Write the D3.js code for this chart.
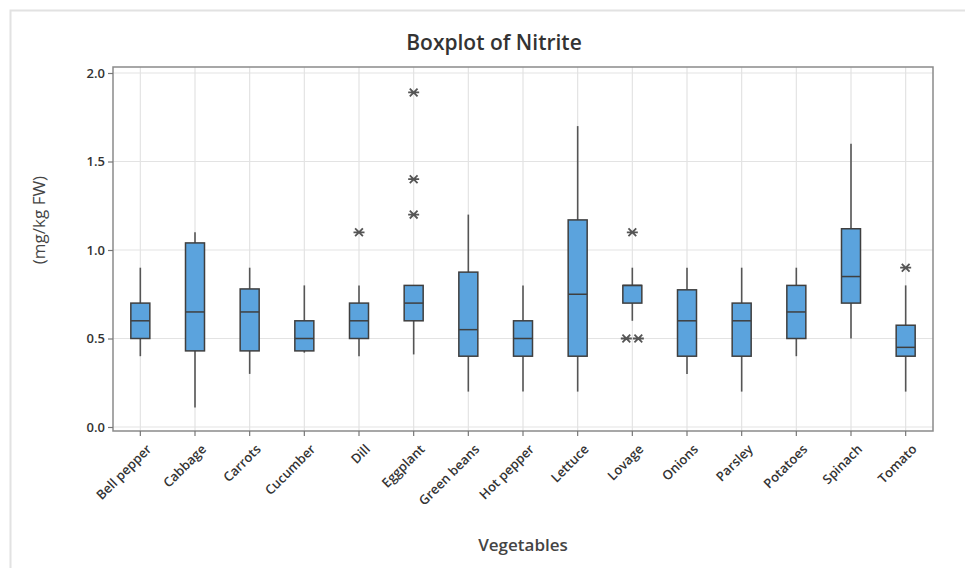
<!DOCTYPE html>
<html>
<head>
<meta charset="utf-8">
<script src="https://cdn.jsdelivr.net/npm/d3@7"></script>
<style>
  html, body { margin: 0; padding: 0; background: #fff; }
  svg { display: block; font-family: "Open Sans", "Noto Sans", sans-serif; }
</style>
</head>
<body>
<svg id="chart" width="965" height="568"></svg>
<script>
const categories = ["Bell pepper","Cabbage","Carrots","Cucumber","Dill","Eggplant","Green beans","Hot pepper","Lettuce","Lovage","Onions","Parsley","Potatoes","Spinach","Tomato"];
const whiskerLow  = [0.40, 0.11, 0.30, 0.42, 0.40, 0.41, 0.20, 0.20, 0.20, 0.60, 0.30, 0.20, 0.40, 0.50, 0.20];
const q1          = [0.50, 0.43, 0.43, 0.43, 0.50, 0.60, 0.40, 0.40, 0.40, 0.70, 0.40, 0.40, 0.50, 0.70, 0.40];
const median      = [0.60, 0.65, 0.65, 0.50, 0.60, 0.70, 0.55, 0.50, 0.75, 0.80, 0.60, 0.60, 0.65, 0.85, 0.45];
const q3          = [0.70, 1.04, 0.78, 0.60, 0.70, 0.80, 0.875, 0.60, 1.17, 0.80, 0.775, 0.70, 0.80, 1.12, 0.575];
const whiskerHigh = [0.90, 1.10, 0.90, 0.80, 0.80, 0.80, 1.20, 0.80, 1.70, 0.90, 0.90, 0.90, 0.90, 1.60, 0.80];
const outliers    = [[], [], [], [], [1.10], [1.89, 1.40, 1.20], [], [], [], [1.10, 0.50, 0.50], [], [], [], [], [0.90]];
const yTicks = [0.0, 0.5, 1.0, 1.5, 2.0];
const titleText = "Boxplot of Nitrite";
const xTitle = "Vegetables";
const yTitle = "(mg/kg FW)";

const svg = d3.select("#chart");
const L = 113, R = 933, T = 67, B = 431;

// outer frame
svg.append("rect").attr("x", 10.5).attr("y", 10.5).attr("width", 1000).attr("height", 600)
  .attr("fill", "none").attr("stroke", "#e2e2e2").attr("stroke-width", 2);

const x = d3.scaleBand().domain(categories).range([L, R]);
const y = d3.scaleLinear().domain([0, 2]).range([427, 73]);
const cx = c => x(c) + x.bandwidth() / 2;

// gridlines
const grid = svg.append("g");
grid.selectAll(".hg").data(yTicks).join("line")
  .attr("x1", L).attr("x2", R).attr("y1", d => y(d)).attr("y2", d => y(d))
  .attr("stroke", "#e3e3e3").attr("stroke-width", 1.2);
grid.selectAll(".vg").data(categories).join("line")
  .attr("x1", d => cx(d)).attr("x2", d => cx(d)).attr("y1", T).attr("y2", B)
  .attr("stroke", "#e3e3e3").attr("stroke-width", 1.2);

// frame of plot
svg.append("rect").attr("x", L).attr("y", T).attr("width", R - L).attr("height", B - T)
  .attr("fill", "none").attr("stroke", "#8a8a8a").attr("stroke-width", 1.5);

// y axis
const yAxis = d3.axisLeft(y).tickValues(yTicks).tickFormat(d3.format(".1f")).tickSize(5).tickPadding(3);
const gy = svg.append("g").attr("transform", `translate(${L},0)`).call(yAxis);
gy.select(".domain").remove();
gy.selectAll(".tick line").attr("stroke", "#777").attr("stroke-width", 1.2);
gy.selectAll(".tick text").attr("fill", "#333").attr("font-size", 13).attr("font-weight", 600)
  .attr("font-family", "Open Sans, sans-serif");

// x axis
const xAxis = d3.axisBottom(x).tickSize(5).tickPadding(4);
const gx = svg.append("g").attr("transform", `translate(0,${B})`).call(xAxis);
gx.select(".domain").remove();
gx.selectAll(".tick line").attr("stroke", "#777").attr("stroke-width", 1.2);
gx.selectAll(".tick text")
  .attr("fill", "#333").attr("font-size", 13).attr("font-weight", 600)
  .attr("font-family", "Open Sans, sans-serif")
  .attr("text-anchor", "end")
  .attr("dy", 0).attr("y", 0)
  .attr("transform", "translate(12,19) rotate(-45)");

// boxes
const data = categories.map((c, i) => ({c, lo: whiskerLow[i], q1: q1[i], med: median[i], q3: q3[i], hi: whiskerHigh[i], out: outliers[i]}));
const bw = 19;
const g = svg.append("g");
const boxes = g.selectAll(".box").data(data).join("g");
boxes.append("line").attr("x1", d => cx(d.c)).attr("x2", d => cx(d.c))
  .attr("y1", d => y(d.hi)).attr("y2", d => y(d.q3)).attr("stroke", "#555").attr("stroke-width", 1.6);
boxes.append("line").attr("x1", d => cx(d.c)).attr("x2", d => cx(d.c))
  .attr("y1", d => y(d.q1)).attr("y2", d => y(d.lo)).attr("stroke", "#555").attr("stroke-width", 1.6);
boxes.append("rect").attr("x", d => cx(d.c) - bw / 2).attr("width", bw)
  .attr("y", d => y(d.q3)).attr("height", d => y(d.q1) - y(d.q3))
  .attr("fill", "#5ba3dd").attr("stroke", "#3f3f3f").attr("stroke-width", 1.5);
boxes.append("line").attr("x1", d => cx(d.c) - bw / 2).attr("x2", d => cx(d.c) + bw / 2)
  .attr("y1", d => y(d.med)).attr("y2", d => y(d.med)).attr("stroke", "#3f3f3f").attr("stroke-width", 1.5);

// outliers (asterisks); duplicates spread horizontally
const starPath = (() => {
  const r = 5.5, parts = [];
  [0, 45, 135].forEach(a => {
    const rad = a * Math.PI / 180, dx = r * Math.cos(rad), dy = r * Math.sin(rad);
    parts.push(`M${-dx},${-dy}L${dx},${dy}`);
  });
  return parts.join("");
})();
data.forEach(d => {
  const counts = {};
  d.out.forEach(v => { counts[v] = (counts[v] || 0) + 1; });
  const seen = {};
  d.out.forEach(v => {
    const n = counts[v], k = (seen[v] = (seen[v] || 0) + 1) - 1;
    const off = n > 1 ? (k - (n - 1) / 2) * 12 : 0;
    g.append("path").attr("d", starPath)
      .attr("transform", `translate(${cx(d.c) + off},${y(v)})`)
      .attr("stroke", "#555").attr("stroke-width", 1.8).attr("fill", "none");
  });
});

// titles
svg.append("text").attr("x", 494).attr("y", 50).attr("text-anchor", "middle")
  .attr("font-size", 21).attr("font-weight", 600).attr("fill", "#333").text(titleText);
svg.append("text").attr("x", (L + R) / 2).attr("y", 551).attr("text-anchor", "middle")
  .attr("font-size", 17).attr("font-weight", 600).attr("fill", "#444").text(xTitle);
svg.append("text").attr("transform", "translate(45,220) rotate(-90)").attr("text-anchor", "middle")
  .attr("font-size", 17).attr("font-weight", 500).attr("fill", "#444").text(yTitle);
</script>
</body>
</html>
